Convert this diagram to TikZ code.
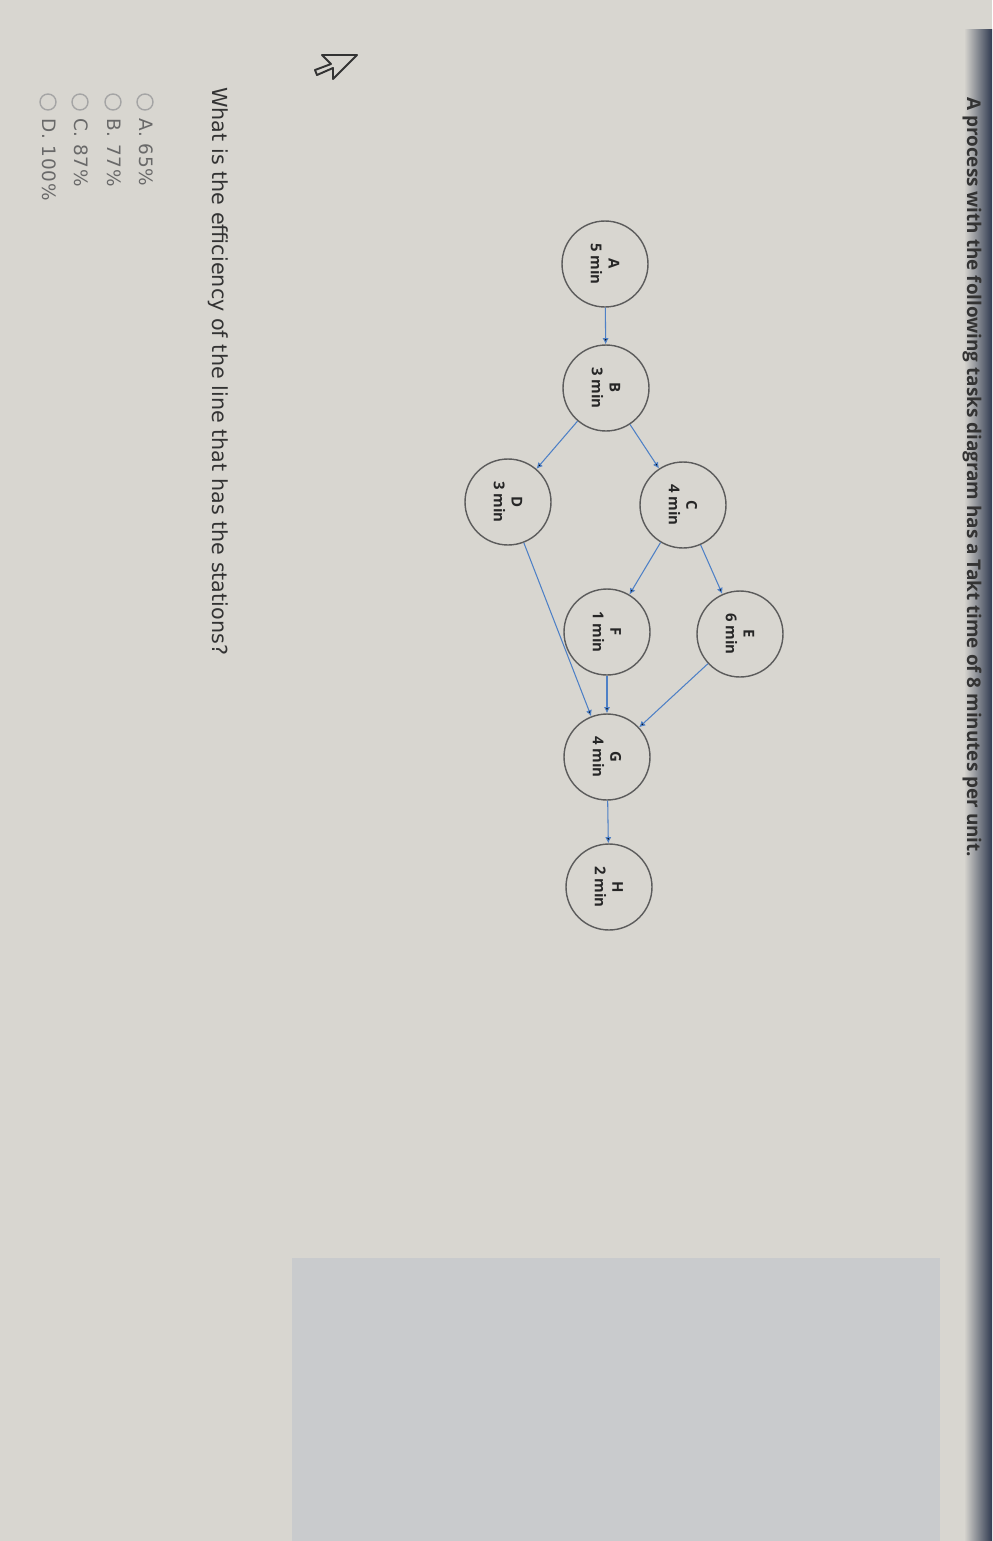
\documentclass[tikz,border=0pt]{standalone}
\usepackage{fontspec}
\setmainfont{Open Sans}
\newfontfamily\quizfont{DejaVu Sans}
\newfontfamily\choicefont[LetterSpace=4]{DejaVu Sans}
\usetikzlibrary{positioning,arrows.meta}
\definecolor{screengray}{RGB}{216,214,208}
\definecolor{panelgray}{RGB}{201,203,205}
\definecolor{linkblue}{RGB}{78,128,198}
\definecolor{ringgray}{RGB}{92,92,92}
\definecolor{optiongray}{RGB}{105,105,105}
\definecolor{framedark}{RGB}{48,58,80}
\tikzstyle{task}=[circle, draw=ringgray, thick, minimum size=1.72cm, inner sep=0pt, rotate=-90, align=center, text=black!85, font=\bfseries\fontsize{8.5}{10}\selectfont]
\tikzstyle{link}=[-{Latex[length=3.5pt,width=3.5pt]}, draw=linkblue, semithick]
\tikzstyle{radio}=[circle, draw=optiongray!60, thick, minimum size=0.32cm, inner sep=0pt]
\tikzstyle{prompt}=[rotate=-90, anchor=base west, inner sep=0pt, text=black!80]
\tikzstyle{option}=[rotate=-90, anchor=base west, inner sep=0pt, text=optiongray, font=\choicefont\fontsize{10.5}{12}\selectfont]

\begin{document}
\begin{tikzpicture}[x=0.02cm, y=-0.02cm]

% screen background
\fill[screengray] (0,0) rectangle (992,1541);
\fill[panelgray] (292,1258) rectangle (940,1541);
\shade[left color=screengray, right color=framedark] (964,30) rectangle (992,1541);

\node[prompt, font=\bfseries\fontsize{10.75}{12}\selectfont](title) at (967,97){A process with the following tasks diagram has a Takt time of 8 minutes per unit.};

\node[task](A) at (605,264){A\\5 min};
\node[task](B) at (606,388){B\\3 min};
\node[task](C) at (683,505){C\\4 min};
\node[task](D) at (508,502){D\\3 min};
\node[task](E) at (740,634){E\\6 min};
\node[task](F) at (607,632){F\\1 min};
\node[task](G) at (607,757){G\\4 min};
\node[task](H) at (609,887){H\\2 min};

\path[link] (A)edge(B);
\path[link] (B)edge(C);
\path[link] (B)edge(D);
\path[link] (C)edge(E);
\path[link] (C)edge(F);
\path[link] (E)edge(G);
\path[link] (F)edge(G);
\path[link] (D)edge(G);
\path[link] (G)edge(H);

% mouse pointer
\draw[black!80, line width=1.1pt, line join=round, fill=screengray] (357,55) -- (322,55) -- (331,64) -- (315,70) -- (317,75) -- (333,68) -- (333,79) -- cycle;

\node[prompt, font=\quizfont\fontsize{11.8}{13}\selectfont](question) at (212,87){What is the efficiency of the line that has the stations?};

\node[radio](rA) at (145,102){};
\node[radio](rB) at (113,102){};
\node[radio](rC) at (80,102){};
\node[radio](rD) at (48,102){};
\node[option](oA) at (139,118){A. 65\%};
\node[option](oB) at (107,118){B. 77\%};
\node[option](oC) at (74,118){C. 87\%};
\node[option](oD) at (42,118){D. 100\%};

\end{tikzpicture}
\end{document}
